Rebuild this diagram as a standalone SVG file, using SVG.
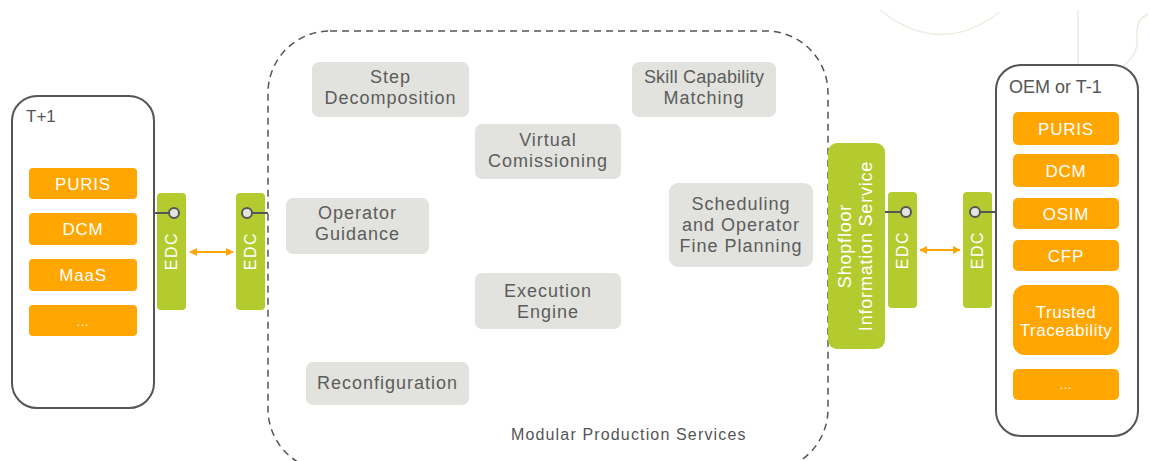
<svg xmlns="http://www.w3.org/2000/svg" width="1150" height="461" viewBox="0 0 1150 461">
<defs>
<style>
.bg{fill:#ffffff}
.deco{fill:none;stroke:#eeece0;stroke-width:1.5}
.party{fill:#ffffff;stroke:#555555;stroke-width:2}
.orange{fill:#ffa600}
.green{fill:#b4cb2f}
.svc{fill:#e2e3de}
.otxt{font-family:"Liberation Sans",Arial,sans-serif;font-size:17px;fill:#ffffff;text-anchor:middle;letter-spacing:0.8px}
.gtxt{font-family:"Liberation Sans",Arial,sans-serif;font-size:18px;fill:#ffffff;text-anchor:middle;letter-spacing:0.8px}
.edc{font-family:"Liberation Sans",Arial,sans-serif;font-size:16px;fill:#ffffff;text-anchor:middle;dominant-baseline:central;letter-spacing:1.5px}
.stxt{font-family:"Liberation Sans",Arial,sans-serif;font-size:18px;fill:#5c5c5c;text-anchor:middle;letter-spacing:1px}
.title{font-family:"Liberation Sans",Arial,sans-serif;font-size:18px;fill:#555555}
.plug{stroke:#555555;stroke-width:2;fill:none}
.dot{fill:#e3e3df;stroke:#555555;stroke-width:2}
.arr{stroke:#ffa600;stroke-width:2;fill:none;marker-start:url(#ah);marker-end:url(#ah)}
</style>
<marker id="ah" viewBox="0 0 10 10" refX="9" refY="5" markerWidth="4" markerHeight="4" orient="auto-start-reverse" markerUnits="strokeWidth">
<path d="M0,0 L10,5 L0,10 z" fill="#ffa600"/>
</marker>
</defs>
<rect class="bg" x="0" y="0" width="1150" height="461"/>
<g id="decoration">
<path class="deco" d="M880,10 Q940,58 1000,12"/>
<path class="deco" d="M1078,10 L1078,78"/>
<path class="deco" d="M1148,14 Q1137,20 1137,30 L1137,44 Q1135,62 1110,74"/>
</g>
<g id="modular-production-services">
<rect x="268" y="31" width="560" height="440" rx="62" ry="62" fill="none" stroke="#555555" stroke-width="1.5" stroke-dasharray="7,5"/>
<text class="title" x="511" y="440" style="font-size:16px;letter-spacing:1.15px">Modular Production Services</text>
</g>
<g id="t-plus-1">
<rect class="party" x="12" y="96" width="142" height="312" rx="25" ry="25"/>
<text class="title" x="26" y="122" style="font-size:17px">T+1</text>
<rect class="orange" x="29" y="168" width="108" height="31" rx="4"/>
<text class="otxt" x="83" y="190">PURIS</text>
<rect class="orange" x="29" y="213" width="108" height="32" rx="4"/>
<text class="otxt" x="83" y="235">DCM</text>
<rect class="orange" x="29" y="259" width="108" height="32" rx="4"/>
<text class="otxt" x="83" y="281">MaaS</text>
<rect class="orange" x="29" y="305" width="108" height="31" rx="4"/>
<text class="otxt" x="83" y="326" style="font-size:12px">...</text>
</g>
<g id="oem-or-t-1">
<rect class="party" x="996" y="65" width="142" height="371" rx="25" ry="25"/>
<text class="title" x="1009" y="93">OEM or T-1</text>
<rect class="orange" x="1013" y="112" width="106" height="33" rx="5"/>
<text class="otxt" x="1066" y="135">PURIS</text>
<rect class="orange" x="1013" y="154" width="106" height="33" rx="5"/>
<text class="otxt" x="1066" y="177">DCM</text>
<rect class="orange" x="1013" y="198" width="106" height="31" rx="5"/>
<text class="otxt" x="1066" y="220">OSIM</text>
<rect class="orange" x="1013" y="240" width="106" height="31" rx="5"/>
<text class="otxt" x="1066" y="262">CFP</text>
<rect class="orange" x="1013" y="285" width="106" height="70" rx="12"/>
<text class="otxt" x="1066" y="318" style="letter-spacing:0.5px">Trusted</text>
<text class="otxt" x="1066" y="336" style="letter-spacing:0.5px">Traceability</text>
<rect class="orange" x="1013" y="369" width="106" height="31" rx="5"/>
<text class="otxt" x="1066" y="389" style="font-size:12px">...</text>
</g>
<g id="edc-1">
<rect class="green" x="157" y="193" width="29" height="117" rx="4"/>
<text class="edc" transform="translate(171.5,251) rotate(-90)">EDC</text>
</g>
<g id="edc-2">
<rect class="green" x="236" y="193" width="29" height="117" rx="4"/>
<text class="edc" transform="translate(250.5,251) rotate(-90)">EDC</text>
</g>
<g id="shopfloor-information-service">
<rect class="green" x="828" y="143" width="57" height="206" rx="9"/>
<text class="gtxt" transform="translate(856,246) rotate(-90)"><tspan x="0" y="-5">Shopfloor</tspan><tspan x="0" y="16">Information Service</tspan></text>
</g>
<g id="edc-3">
<rect class="green" x="888" y="192" width="29" height="116" rx="4"/>
<text class="edc" transform="translate(902.5,250) rotate(-90)">EDC</text>
</g>
<g id="edc-4">
<rect class="green" x="963" y="192" width="29" height="116" rx="4"/>
<text class="edc" transform="translate(977.5,250) rotate(-90)">EDC</text>
</g>
<g id="step-decomposition">
<rect class="svc" x="312" y="62" width="157" height="55" rx="7"/>
<text class="stxt" x="390.5" y="83">Step</text>
<text class="stxt" x="390.5" y="104">Decomposition</text>
</g>
<g id="skill-capability-matching">
<rect class="svc" x="632" y="62" width="144" height="55" rx="7"/>
<text class="stxt" x="704" y="83" style="letter-spacing:0.2px">Skill Capability</text>
<text class="stxt" x="704" y="104">Matching</text>
</g>
<g id="virtual-comissioning">
<rect class="svc" x="475" y="124" width="146" height="55" rx="7"/>
<text class="stxt" x="548" y="146">Virtual</text>
<text class="stxt" x="548" y="167">Comissioning</text>
</g>
<g id="operator-guidance">
<rect class="svc" x="286" y="198" width="143" height="56" rx="7"/>
<text class="stxt" x="357.5" y="219">Operator</text>
<text class="stxt" x="357.5" y="240">Guidance</text>
</g>
<g id="scheduling-and-operator-fine-planning">
<rect class="svc" x="669" y="183" width="144" height="84" rx="9"/>
<text class="stxt" x="741" y="210">Scheduling</text>
<text class="stxt" x="741" y="231">and Operator</text>
<text class="stxt" x="741" y="252">Fine Planning</text>
</g>
<g id="execution-engine">
<rect class="svc" x="475" y="273" width="146" height="56" rx="7"/>
<text class="stxt" x="548" y="297">Execution</text>
<text class="stxt" x="548" y="318">Engine</text>
</g>
<g id="reconfiguration">
<rect class="svc" x="306" y="362" width="163" height="43" rx="7"/>
<text class="stxt" x="387.5" y="389">Reconfiguration</text>
</g>
<g id="connectors">
<line class="plug" x1="154" y1="213" x2="169" y2="213"/>
<circle class="dot" cx="174" cy="213" r="5"/>
<line class="plug" x1="252" y1="213" x2="268" y2="213"/>
<circle class="dot" cx="247" cy="213" r="5"/>
<line class="arr" x1="190" y1="252" x2="233" y2="252"/>
<line class="plug" x1="885" y1="212" x2="901" y2="212"/>
<circle class="dot" cx="906" cy="212" r="5"/>
<line class="plug" x1="980" y1="212" x2="996" y2="212"/>
<circle class="dot" cx="975" cy="212" r="5"/>
<line class="arr" x1="920" y1="250" x2="960" y2="250"/>
</g>
</svg>
